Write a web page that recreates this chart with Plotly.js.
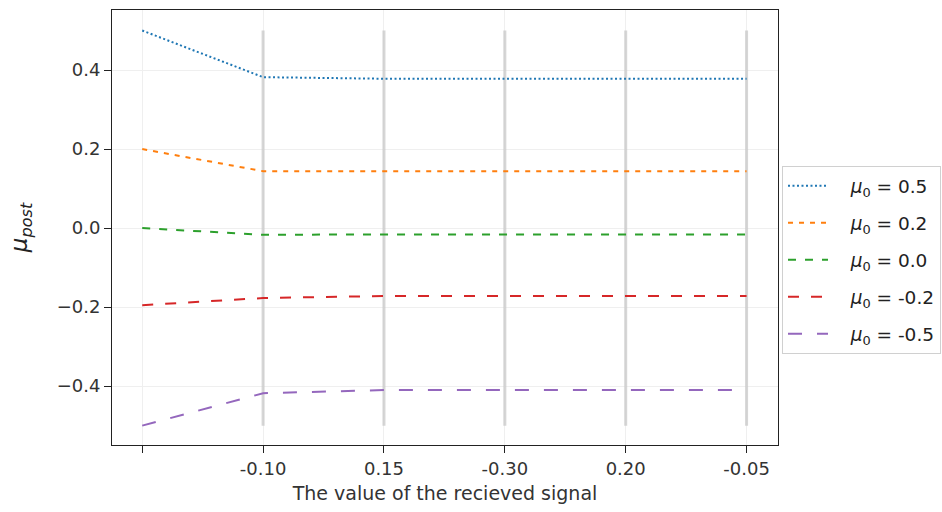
<!DOCTYPE html>
<html>
<head>
<meta charset="utf-8">
<script src="https://cdn.plot.ly/plotly-3.0.1.min.js"></script>
<style>html,body{margin:0;padding:0;background:#fff;}#chart{width:942px;height:512px;}</style>
</head>
<body>
<div id="chart"></div>
<script>
// categorical positions and labels
const xPos = [0, 1, 2, 3, 4, 5];
const xTickLabels = ["", "-0.10", "0.15", "-0.30", "0.20", "-0.05"];

// series legend labels
const legendLabels = ["0.5", "0.2", "0.0", "-0.2", "-0.5"];

// series values
const muA = [0.5, 0.382, 0.378, 0.378, 0.378, 0.378];
const muB = [0.2, 0.144, 0.144, 0.144, 0.144, 0.144];
const muC = [0.0, -0.017, -0.016, -0.016, -0.016, -0.016];
const muD = [-0.195, -0.177, -0.172, -0.172, -0.172, -0.172];
const muE = [-0.5, -0.418, -0.41, -0.41, -0.41, -0.41];

// vertical reference bars
const vlineX = [1, 2, 3, 4, 5];
const vlineLow = -0.5;
const vlineHigh = 0.5;

// y ticks
const yTickVals = [-0.4, -0.2, 0.0, 0.2, 0.4];
const yTickText = ["−0.4", "−0.2", "0.0", "0.2", "0.4"];

const colors = ["#1f77b4", "#ff7f0e", "#2ca02c", "#d62728", "#9467bd"];
const dashes = ["2px,2.5px", "5px,6px", "8px,9px", "11px,12px", "14px,15px"];
const allSeries = [muA, muB, muC, muD, muE];

const traces = [];
vlineX.forEach(function (xv) {
  traces.push({
    x: [xv, xv], y: [vlineLow, vlineHigh], mode: "lines",
    line: {color: "rgba(200,200,200,0.75)", width: 3},
    showlegend: false, hoverinfo: "skip"
  });
});
allSeries.forEach(function (ys, i) {
  traces.push({
    x: xPos, y: ys, mode: "lines", name: "&nbsp;&nbsp;&nbsp;<i>μ</i><sub>0</sub> = " + legendLabels[i],
    legendgroup: "g" + i,
    line: {color: colors[i], width: 2, dash: dashes[i]}
  });
});

const layout = {
  width: 942, height: 512,
  margin: {l: 112, r: 164, t: 10, b: 67, autoexpand: false},
  paper_bgcolor: "#fff", plot_bgcolor: "#fff",
  font: {family: "DejaVu Sans", size: 18, color: "#333"},
  showlegend: true,
  legend: {
    x: 1.006, xanchor: "left", y: 0.425, yanchor: "middle",
    bordercolor: "#d0d0d0", borderwidth: 1, bgcolor: "#fff",
    font: {size: 18.5, color: "#222"},
    traceorder: "grouped", tracegroupgap: 10, itemwidth: 40
  },
  xaxis: {
    range: [-0.25, 5.26], automargin: false,
    tickmode: "array", tickvals: xPos, ticktext: xTickLabels,
    showgrid: true, gridcolor: "#efefef", gridwidth: 1,
    zeroline: false,
    showline: true, linecolor: "#222", linewidth: 1, mirror: true,
    ticks: "outside", ticklen: 7, tickcolor: "#222",
    tickfont: {size: 18, color: "#333"},
    title: {text: "The value of the recieved signal", font: {size: 19, color: "#333"}, standoff: 9}
  },
  yaxis: {
    range: [-0.549, 0.552], automargin: false,
    tickmode: "array", tickvals: yTickVals, ticktext: yTickText,
    showgrid: true, gridcolor: "#efefef", gridwidth: 1,
    zeroline: false,
    showline: true, linecolor: "#222", linewidth: 1, mirror: true,
    ticks: "outside", ticklen: 7, tickcolor: "#222",
    tickfont: {size: 18, color: "#333"},
    title: {text: "<i>μ<sub>post</sub></i>", font: {size: 23, color: "#222"}, standoff: 22}
  }
};

Plotly.newPlot("chart", traces, layout, {displayModeBar: false, staticPlot: true});
</script>
</body>
</html>
